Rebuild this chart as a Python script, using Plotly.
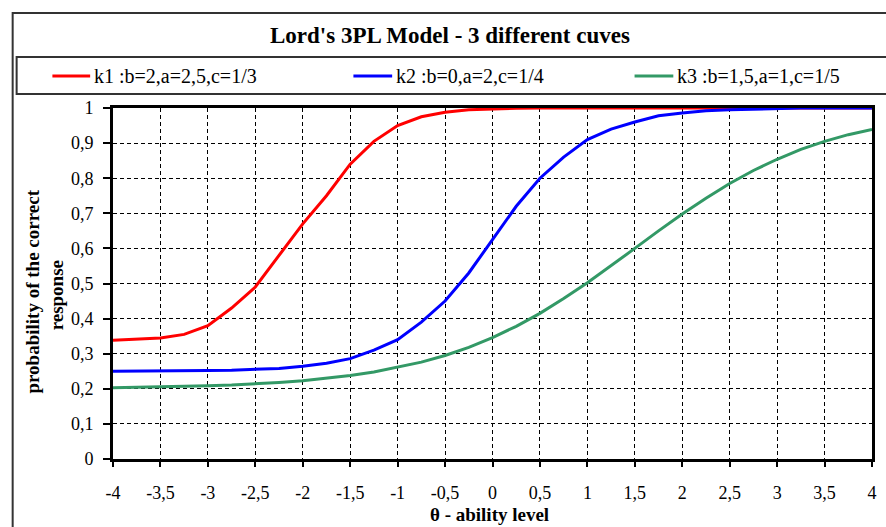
import plotly.graph_objects as go

# ---------------- data ----------------
theta = [-4.0, -3.75, -3.5, -3.25, -3.0, -2.75, -2.5, -2.25, -2.0, -1.75, -1.5,
         -1.25, -1.0, -0.75, -0.5, -0.25, 0.0, 0.25, 0.5, 0.75, 1.0, 1.25, 1.5,
         1.75, 2.0, 2.25, 2.5, 2.75, 3.0, 3.25, 3.5, 3.75, 4.0]

k1 = [0.338, 0.341, 0.345, 0.355, 0.380, 0.430, 0.490, 0.580, 0.670, 0.750, 0.840,
      0.905, 0.950, 0.975, 0.988, 0.995, 0.998, 0.999, 1.0, 1.0, 1.0, 1.0, 1.0,
      1.0, 1.0, 1.0, 1.0, 1.0, 1.0, 1.0, 1.0, 1.0, 1.0]

k2 = [0.250, 0.250, 0.251, 0.251, 0.252, 0.253, 0.255, 0.258, 0.264, 0.273, 0.286,
      0.310, 0.340, 0.390, 0.450, 0.530, 0.625, 0.720, 0.800, 0.860, 0.910, 0.940,
      0.960, 0.978, 0.986, 0.992, 0.995, 0.997, 1.0, 1.0, 1.0, 1.0, 1.0]

k3 = [0.203, 0.204, 0.205, 0.207, 0.209, 0.211, 0.214, 0.218, 0.223, 0.230, 0.238,
      0.248, 0.261, 0.276, 0.295, 0.318, 0.346, 0.378, 0.415, 0.457, 0.502, 0.550,
      0.600, 0.650, 0.698, 0.743, 0.785, 0.822, 0.854, 0.882, 0.905, 0.924, 0.939]

series_names = ["k1 :b=2,a=2,5,c=1/3", "k2 :b=0,a=2,c=1/4", "k3 :b=1,5,a=1,c=1/5"]
series_colors = ["#FF0000", "#0000FF", "#339966"]

x_tick_vals = [-4, -3.5, -3, -2.5, -2, -1.5, -1, -0.5, 0, 0.5, 1, 1.5, 2, 2.5, 3, 3.5, 4]
x_tick_text = ["-4", "-3,5", "-3", "-2,5", "-2", "-1,5", "-1", "-0,5", "0", "0,5",
               "1", "1,5", "2", "2,5", "3", "3,5", "4"]
y_tick_vals = [0, 0.1, 0.2, 0.3, 0.4, 0.5, 0.6, 0.7, 0.8, 0.9, 1.0]
y_tick_text = ["0", "0,1", "0,2", "0,3", "0,4", "0,5", "0,6", "0,7", "0,8", "0,9", "1"]

title_text = "Lord's 3PL Model - 3 different cuves"
x_title = "θ - ability level"
y_title_lines = ["probability of the correct", "response"]

# ---------------- layout geometry ----------------
W, H = 886, 527
L, R, T, B = 113, 877, 108, 459
FONT = "Liberation Serif"


def px(x):
    return (x - L) / (R - L)


def py(y):
    return (B - y) / (B - T)


fig = go.Figure()
for ys, name, col in zip([k1, k2, k3], series_names, series_colors):
    fig.add_trace(go.Scatter(x=theta, y=ys, mode="lines", name=name,
                             line=dict(color=col, width=3), showlegend=False,
                             cliponaxis=False))

shapes = []
# outer chart frame
shapes.append(dict(type="rect", xref="paper", yref="paper",
                   x0=px(12), x1=px(893), y0=py(534), y1=py(13),
                   line=dict(color="#333333", width=2), fillcolor="rgba(0,0,0,0)", layer="below"))
# legend box
shapes.append(dict(type="rect", xref="paper", yref="paper",
                   x0=px(16), x1=px(893), y0=py(94), y1=py(57),
                   line=dict(color="#333333", width=2), fillcolor="rgba(0,0,0,0)", layer="below"))

annotations = []
annotations.append(dict(text="<b>" + title_text + "</b>", xref="paper", yref="paper",
                        x=px(452), y=py(35), xanchor="center", yanchor="middle",
                        showarrow=False, font=dict(family=FONT, size=23, color="black")))

legend_pos = [(52, 90), (355, 394), (638, 677)]
for (x0, x1), name, col in zip(legend_pos, series_names, series_colors):
    shapes.append(dict(type="line", xref="paper", yref="paper",
                       x0=px(x0), x1=px(x1), y0=py(76), y1=py(76),
                       line=dict(color=col, width=3)))
    annotations.append(dict(text=name, xref="paper", yref="paper",
                            x=px(x1 + 2), y=py(76), xanchor="left", yanchor="middle",
                            showarrow=False, font=dict(family=FONT, size=20, color="black")))

annotations.append(dict(text="<b>" + y_title_lines[0] + "</b>", xref="paper", yref="paper",
                        x=px(31), y=py(292), xanchor="center", yanchor="middle", textangle=-90,
                        showarrow=False, font=dict(family=FONT, size=19, color="black")))
annotations.append(dict(text="<b>" + y_title_lines[1] + "</b>", xref="paper", yref="paper",
                        x=px(56), y=py(295), xanchor="center", yanchor="middle", textangle=-90,
                        showarrow=False, font=dict(family=FONT, size=19, color="black")))
annotations.append(dict(text="<b>" + x_title + "</b>", xref="paper", yref="paper",
                        x=px(492), y=py(514), xanchor="center", yanchor="middle",
                        showarrow=False, font=dict(family=FONT, size=19, color="black")))

axis_common = dict(showgrid=True, gridcolor="black", gridwidth=1, griddash="4px,3px",
                   showline=True, linecolor="black", linewidth=3, mirror=True,
                   ticks="outside", tickcolor="black", tickwidth=1.5,
                   zeroline=False, layer="below traces")

fig.update_layout(
    width=W, height=H,
    margin=dict(l=L, r=W - R, t=T, b=H - B),
    paper_bgcolor="white", plot_bgcolor="white",
    showlegend=False,
    xaxis=dict(range=[-4, 4], tickvals=x_tick_vals, ticktext=x_tick_text,
               ticklen=5, ticklabelstandoff=10,
               tickfont=dict(family=FONT, size=18, color="black"), **axis_common),
    yaxis=dict(range=[0, 1], tickvals=y_tick_vals, ticktext=y_tick_text,
               ticklen=7, ticklabelstandoff=6,
               tickfont=dict(family=FONT, size=18, color="black"), **axis_common),
    shapes=shapes,
    annotations=annotations,
)

fig.write_html("out.html")
